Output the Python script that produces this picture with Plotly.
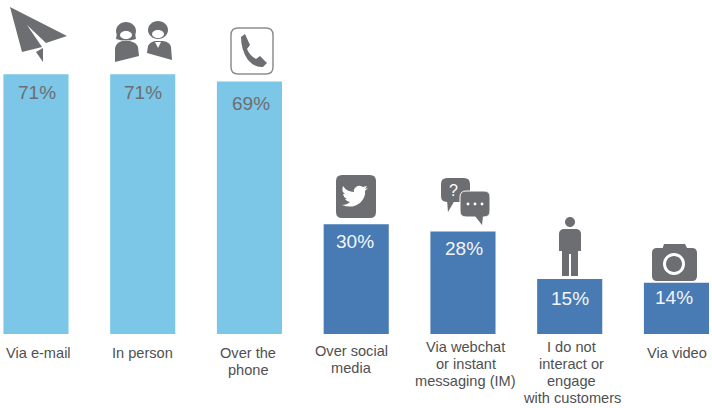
import re
import plotly.graph_objects as go

# Share of respondents per contact channel
channels = ["Via e-mail", "In person", "Over the<br>phone", "Over social<br>media",
            "Via webchat<br>or instant<br>messaging (IM)",
            "I do not<br>interact or<br>engage<br>with customers", "Via video"]
shares = [71, 71, 69, 30, 28, 15, 14]
share_labels = ["71%", "71%", "69%", "30%", "28%", "15%", "14%"]

LIGHT = "#7cc6e7"
DARK = "#487ab4"
GREY = "#6d6e71"
FONT = "Liberation Sans"
W, H, PLOT_H = 712, 408, 334

positions = list(range(len(channels)))
bar_colors = [LIGHT] * 3 + [DARK] * 4
value_colors = [GREY] * 3 + ["#f2f6fa"] * 4
value_shift = [-18, -18, -22, -17, -17, -19, -15]
value_dx = [1.5, 0, 2, -1, 1.5, 0, -2]
name_top = [344, 344, 344, 342, 338, 338, 344]
name_dx = [3, 0, -1, -5, 3, 2, 1]
LINE_GAP = 17


def to_paper(path):
    """Convert an icon path from page pixels to paper fractions."""
    tokens = re.findall(r"[MLQCZ]|-?\d+\.?\d*", path)
    out, is_x = [], True
    for t in tokens:
        if t in "MLQCZ":
            out.append(t)
            is_x = True
        else:
            v = float(t)
            out.append(f"{v / W:.5f}" if is_x else f"{1 - v / PLOT_H:.5f}")
            is_x = not is_x
    return " ".join(out)


def circle(cx, cy, rx, ry=None):
    ry = rx if ry is None else ry
    k = 0.5523
    return (f"M{cx - rx},{cy} C{cx - rx},{cy - k * ry} {cx - k * rx},{cy - ry} {cx},{cy - ry} "
            f"C{cx + k * rx},{cy - ry} {cx + rx},{cy - k * ry} {cx + rx},{cy} "
            f"C{cx + rx},{cy + k * ry} {cx + k * rx},{cy + ry} {cx},{cy + ry} "
            f"C{cx - k * rx},{cy + ry} {cx - rx},{cy + k * ry} {cx - rx},{cy} Z")


def round_rect(x0, y0, x1, y1, r):
    return (f"M{x0 + r},{y0} L{x1 - r},{y0} Q{x1},{y0} {x1},{y0 + r} L{x1},{y1 - r} "
            f"Q{x1},{y1} {x1 - r},{y1} L{x0 + r},{y1} Q{x0},{y1} {x0},{y1 - r} "
            f"L{x0},{y0 + r} Q{x0},{y0} {x0 + r},{y0} Z")


def icon(path, fill=GREY, line=None, width=0):
    return dict(type="path", xref="paper", yref="paper", path=to_paper(path),
                fillcolor=fill, line=dict(color=line or "rgba(0,0,0,0)", width=width))


icons = [
    # paper plane
    icon("M10,7 L67,36 L46,43 L27,25 L42,47 L22,52 Z"),
    icon("M36,52 L43,48 L43,62 Z"),
    # two people
    icon(circle(126, 31, 10, 9)),
    icon("M115,62 L115,48 Q116,43 122,41 L130,41 Q137,43 138,47 L139,56 Z"),
    icon("M117,33 Q126,44 135,33 L136,39 Q126,42 116,39 Z", fill=GREY),
    icon(circle(126, 35, 6, 4), fill="#ffffff"),
    icon(circle(158, 30, 10, 9)),
    icon("M147,53 L148,46 Q150,42 155,41 L163,41 Q170,42 171,47 L172,60 Z"),
    icon(circle(158, 34, 6, 4), fill="#ffffff"),
    icon("M155,42 L161,42 L158,48 Z", fill="#ffffff"),
    # phone
    icon(round_rect(231, 28, 273, 74, 7), fill="#ffffff", line="#8d8e90", width=1.5),
    icon("M241,37 L245,34 L250,45 L247,49 Q250,56 256,59 L260,56 L267,63 L263,67 "
         "Q255,68 248,60 Q241,50 241,37 Z"),
    # social media badge
    icon(round_rect(336, 175, 376, 218, 6)),
    icon("M368,188 L365,189 L367,186 L363,187 Q358,184 355,188 Q353,190 354,192 Q347,192 343,186 "
         "Q341,191 345,194 L343,194 Q344,198 347,199 L345,199 Q347,202 350,202 Q347,205 342,205 "
         "Q352,209 360,203 Q366,197 365,191 Z", fill="#ffffff"),
    # speech bubbles
    icon(round_rect(441, 178, 470, 202, 6)),
    icon("M447,200 L455,200 L448,212 Z"),
    icon(round_rect(460, 191, 490, 217, 6), line="#ffffff", width=1),
    icon("M475,216 L483,216 L482,225 Z"),
    icon(circle(468, 204, 1.4), fill="#ffffff"),
    icon(circle(475, 204, 1.4), fill="#ffffff"),
    icon(circle(482, 204, 1.4), fill="#ffffff"),
    # standing person
    icon(circle(570, 222, 5)),
    icon("M563,229 L577,229 Q581,230 581,234 L581,251 L578,251 L578,276 L571,276 L571,254 L569,254 "
         "L569,276 L562,276 L562,251 L559,251 L559,234 Q559,230 563,229 Z"),
    # camera
    icon(round_rect(652, 248, 697, 281, 5)),
    icon("M662,250 L664,244 L685,244 L688,250 Z"),
    icon(circle(674, 264, 11), fill="#ffffff"),
    icon(circle(674, 264, 8)),
]

annotations = []
for i, label in enumerate(share_labels):
    annotations.append(dict(x=i, y=shares[i], xref="x", yref="y", text=label, showarrow=False,
                            xshift=value_dx[i], yshift=value_shift[i], xanchor="center", yanchor="middle",
                            font=dict(family=FONT, size=19, color=value_colors[i])))
for i, name in enumerate(channels):
    for n, line in enumerate(name.split("<br>")):
        annotations.append(dict(x=i, xref="x", xshift=name_dx[i], xanchor="center",
                                y=1 - (name_top[i] + n * LINE_GAP) / PLOT_H, yref="paper",
                                yanchor="top", text=line, showarrow=False, borderpad=0,
                                font=dict(family=FONT, size=14.6, color="#4f5052")))
annotations.append(dict(x=454 / W, y=1 - 190 / PLOT_H, xref="paper", yref="paper", text="?",
                        showarrow=False, font=dict(family=FONT, size=16, color="#ffffff")))

fig = go.Figure(go.Bar(x=positions, y=shares, width=0.61, marker=dict(color=bar_colors, line_width=0),
                       hoverinfo="skip"))
fig.update_layout(
    width=W, height=H, margin=dict(l=0, r=0, t=0, b=H - PLOT_H, pad=0),
    paper_bgcolor="#ffffff", plot_bgcolor="#ffffff", showlegend=False,
    xaxis=dict(visible=False, range=[-0.337, 6.333]),
    yaxis=dict(visible=False, range=[0, 91.26]),
    shapes=icons, annotations=annotations,
)
fig.write_html("out.html", config=dict(displayModeBar=False))
